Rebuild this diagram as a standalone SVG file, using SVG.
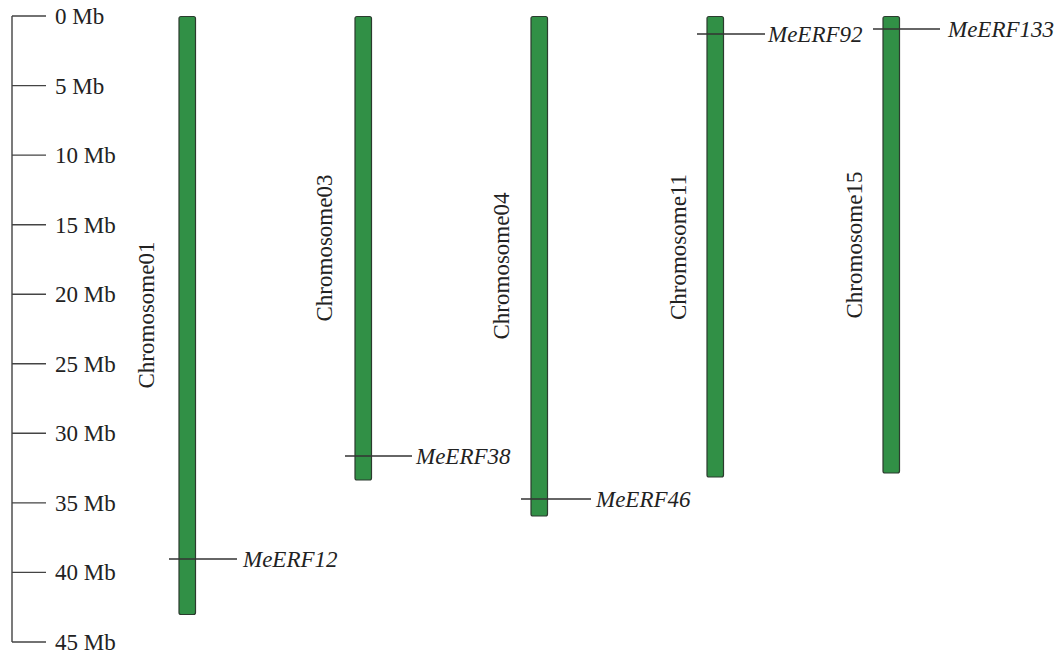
<svg xmlns="http://www.w3.org/2000/svg" width="1063" height="656" viewBox="0 0 1063 656">
<style>
text{font-family:"Liberation Serif","Times New Roman",serif;font-size:23px;fill:#222}
.gene{font-style:italic}
.chr{fill:#319046;stroke:#2b3b2e;stroke-width:1.2}
.ax{stroke:#444;stroke-width:1.4;fill:none}
.mk{stroke:#333;stroke-width:1.4}
</style>
<rect width="1063" height="656" fill="#fff"/>
<g id="scale">
<path class="ax" d="M12 16V642M12 16H46M12 85.6H46M12 155.1H46M12 224.7H46M12 294.2H46M12 363.8H46M12 433.3H46M12 502.9H46M12 572.4H46M12 642H46"/>
<text x="55" y="24">0 Mb</text>
<text x="55" y="93.6">5 Mb</text>
<text x="55" y="163.1">10 Mb</text>
<text x="55" y="232.7">15 Mb</text>
<text x="55" y="302.2">20 Mb</text>
<text x="55" y="371.8">25 Mb</text>
<text x="55" y="441.3">30 Mb</text>
<text x="55" y="510.9">35 Mb</text>
<text x="55" y="580.4">40 Mb</text>
<text x="55" y="650">45 Mb</text>
</g>
<g id="chr01">
<rect class="chr" x="179" y="16.5" width="16.5" height="598" rx="2"/>
<text transform="translate(154 315) rotate(-90)" text-anchor="middle">Chromosome01</text>
</g>
<g id="chr03">
<rect class="chr" x="355" y="16.5" width="16.5" height="463.5" rx="2"/>
<text transform="translate(332 248) rotate(-90)" text-anchor="middle">Chromosome03</text>
</g>
<g id="chr04">
<rect class="chr" x="531" y="16.5" width="16.5" height="499.5" rx="2"/>
<text transform="translate(509 266) rotate(-90)" text-anchor="middle">Chromosome04</text>
</g>
<g id="chr11">
<rect class="chr" x="707" y="16.5" width="16.5" height="460.5" rx="2"/>
<text transform="translate(686 247) rotate(-90)" text-anchor="middle">Chromosome11</text>
</g>
<g id="chr15">
<rect class="chr" x="883" y="16.5" width="16.5" height="456.5" rx="2"/>
<text transform="translate(862 245) rotate(-90)" text-anchor="middle">Chromosome15</text>
</g>
<g id="connectors">
<line class="mk" x1="169" y1="559" x2="237" y2="559"/>
<line class="mk" x1="345" y1="456" x2="412" y2="456"/>
<line class="mk" x1="521" y1="499" x2="591" y2="499"/>
<line class="mk" x1="697" y1="34" x2="765" y2="34"/>
<line class="mk" x1="873" y1="29" x2="940" y2="29"/>
</g>
<g id="genes">
<text class="gene" x="243" y="567">MeERF12</text>
<text class="gene" x="416" y="464">MeERF38</text>
<text class="gene" x="596" y="507">MeERF46</text>
<text class="gene" x="768" y="42">MeERF92</text>
<text class="gene" x="948" y="37">MeERF133</text>
</g>
</svg>
